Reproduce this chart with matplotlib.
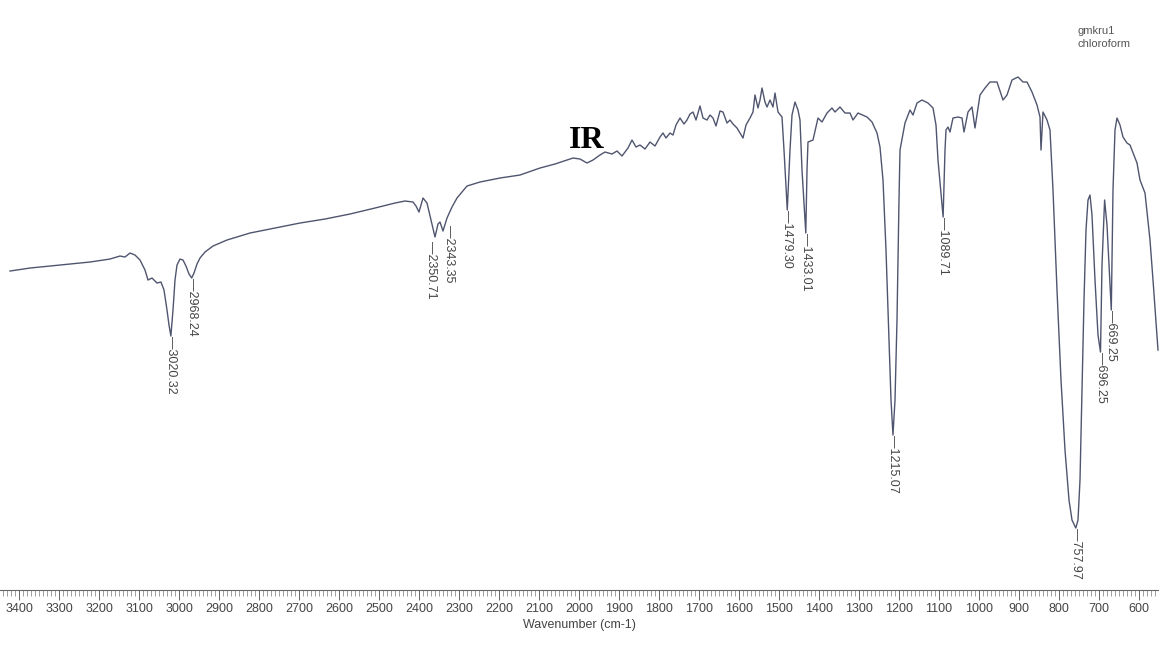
import matplotlib.pyplot as plt
from matplotlib.ticker import MultipleLocator

# IR trace (wavenumber in cm-1, transmittance in %T)
wavenumber = [
    3422.5, 3372.5, 3322.5, 3272.5, 3222.5, 3172.5, 3147.5, 3135, 3122.5, 3110,
    3097.5, 3085, 3077.5, 3067.5, 3055, 3045, 3037.5, 3030, 3025, 3020.32,
    3015, 3010, 3005, 2997.5, 2990, 2982.5, 2975, 2968.24, 2962.5, 2955,
    2947.5, 2935, 2915, 2880, 2822.5, 2760, 2697.5, 2635, 2572.5, 2510,
    2460, 2435, 2415, 2407.5, 2400, 2390, 2380, 2370, 2360, 2352.5,
    2347.5, 2340, 2330, 2317.5, 2305, 2280, 2247.5, 2197.5, 2147.5, 2097.5,
    2060, 2015, 1997.5, 1980, 1965, 1947.5, 1935, 1917.5, 1905, 1892.5,
    1877.5, 1867.5, 1857.5, 1847.5, 1835, 1822.5, 1810, 1797.5, 1790, 1782.5,
    1772.5, 1765, 1757.5, 1747.5, 1737.5, 1730, 1722.5, 1715, 1707.5, 1697.5,
    1690, 1680, 1672.5, 1665, 1657.5, 1647.5, 1640, 1630, 1622.5, 1615,
    1605, 1597.5, 1590, 1582.5, 1572.5, 1565, 1560, 1552.5, 1547.5, 1542.5,
    1535, 1530, 1522.5, 1515, 1510, 1502.5, 1492.5, 1487.5, 1479.30, 1472.5,
    1467.5, 1460, 1452.5, 1447.5, 1442.5, 1433.01, 1430, 1427.5, 1415, 1402.5,
    1392.5, 1380, 1367.5, 1360, 1347.5, 1335, 1322.5, 1315, 1302.5, 1280,
    1267.5, 1255, 1247.5, 1240, 1232.5, 1225, 1220, 1215.07, 1210, 1205,
    1200, 1197.5, 1185, 1172.5, 1165, 1155, 1142.5, 1127.5, 1115, 1107.5,
    1102.5, 1089.71, 1085, 1082.5, 1077.5, 1072.5, 1065, 1052.5, 1042.5, 1037.5,
    1027.5, 1017.5, 1010, 997.5, 985, 972.5, 955, 940, 930, 917.5,
    902.5, 890, 880, 867.5, 855, 847.5, 845, 842.5, 840, 830,
    822.5, 815, 805, 795, 785, 775, 767.5, 757.97, 752.5, 747.5,
    742.5, 737.5, 732.5, 727.5, 722.5, 717.5, 710, 702.5, 696.25, 692.5,
    686, 680, 675, 669.25, 665, 660, 655, 647.5, 640, 630,
    622.5, 605, 597.5, 585, 572.5, 565, 552.5,
]
transmittance = [
    53.8, 54.4, 54.8, 55.2, 55.6, 56.2, 56.8, 56.6, 57.4, 57.0,
    56.0, 54.0, 52.0, 52.4, 51.4, 51.6, 50.0, 46.0, 43.0, 40.8,
    46.0, 52.0, 55.0, 56.2, 56.0, 54.8, 53.2, 52.4, 53.4, 55.2,
    56.4, 57.6, 58.8, 60.0, 61.4, 62.4, 63.4, 64.2, 65.2, 66.4,
    67.4, 67.8, 67.6, 66.8, 65.6, 68.4, 67.4, 64.0, 60.6, 63.2,
    63.6, 61.8, 64.4, 66.6, 68.4, 70.8, 71.6, 72.4, 73.0, 74.4,
    75.2, 76.4, 76.2, 75.4, 76.0, 77.0, 77.6, 77.2, 77.8, 76.8,
    78.4, 80.0, 78.6, 79.0, 78.2, 79.6, 78.8, 80.6, 81.4, 80.4,
    81.4, 81.0, 83.0, 84.4, 83.2, 84.0, 85.2, 85.6, 84.0, 86.8,
    84.4, 84.0, 85.0, 84.4, 82.8, 85.8, 85.6, 83.4, 84.0, 83.2,
    82.4, 81.4, 80.4, 83.0, 84.4, 85.6, 89.0, 86.4, 88.0, 90.4,
    87.6, 86.6, 88.0, 86.6, 89.4, 85.6, 84.6, 78.0, 66.0, 78.0,
    85.0, 87.6, 86.0, 84.0, 74.0, 61.4, 74.0, 79.6, 80.0, 84.4,
    83.6, 85.4, 86.4, 85.6, 86.6, 85.4, 85.4, 84.0, 85.4, 84.6,
    83.6, 81.4, 78.6, 72.0, 58.0, 40.0, 28.0, 21.0, 28.0, 44.0,
    68.0, 78.0, 83.4, 86.0, 85.0, 87.4, 88.0, 87.4, 86.4, 83.0,
    76.0, 64.6, 78.0, 82.0, 82.6, 81.6, 84.4, 84.6, 84.4, 81.6,
    85.6, 86.6, 82.4, 89.0, 90.4, 91.6, 91.6, 88.0, 89.0, 92.0,
    92.6, 91.6, 91.6, 89.6, 87.0, 84.6, 78.0, 82.0, 85.6, 84.0,
    82.0, 70.0, 50.0, 32.0, 18.0, 8.0, 4.0, 2.4, 4.0, 12.0,
    30.0, 48.0, 62.0, 68.0, 69.0, 65.0, 52.0, 41.0, 37.6, 55.0,
    68.0, 63.0, 55.0, 46.0, 70.0, 82.0, 84.4, 83.0, 80.6, 79.4,
    79.0, 75.4, 72.0, 69.4, 60.0, 52.0, 38.0,
]

peak_text = ["3020.32", "2968.24", "2350.71", "2343.35", "1479.30", "1433.01",
             "1215.07", "1089.71", "757.97", "696.25", "669.25"]
peak_at = [3020.32, 2968.24, 2360, 2340, 1479.30, 1433.01,
           1215.07, 1089.71, 757.97, 696.25, 669.25]

fig = plt.figure(figsize=(11.59, 6.52), dpi=100)
ax = fig.add_axes([0, 0.095, 1, 0.905])
ax.plot(wavenumber, transmittance, color="#50556f", lw=1.0)

ax.set_xlim(3447.5, 550)
ax.set_ylim(-10, 108)
for s in ["top", "left", "right"]:
    ax.spines[s].set_visible(False)
ax.spines["bottom"].set_color("#666666")
ax.spines["bottom"].set_linewidth(0.8)
ax.set_yticks([])
ax.xaxis.set_major_locator(MultipleLocator(100))
ax.xaxis.set_minor_locator(MultipleLocator(10))
ax.tick_params(axis="x", which="major", length=7, width=0.7, color="#666666",
               labelsize=9, labelcolor="#444444", pad=2)
ax.tick_params(axis="x", which="minor", length=4, width=0.5, color="#777777")
for lab in ax.get_xticklabels():
    lab.set_family("Liberation Sans")
ax.set_xlabel("Wavenumber (cm-1)", fontsize=9, color="#444444",
              family="Liberation Sans", labelpad=3)

# peak labels hanging under each band; the CO2 pair is nudged apart
nudge = {"2350.71": (-3, -3), "2343.35": (4, 4)}
pts = sorted(zip(wavenumber, transmittance))
for txt, w in zip(peak_text, peak_at):
    t_min = min(t for x, t in pts if abs(x - w) < 4)
    dx, dy = nudge.get(txt, (0, -0.3))
    ax.annotate("\u2014" + txt, (w, t_min), xytext=(dx, dy),
                textcoords="offset points", rotation=270, ha="center", va="top",
                fontsize=9, color="#444444", family="Liberation Sans")

ax.text(1980, 78.4, "IR", fontsize=23, fontweight="bold", family="Liberation Serif",
        ha="center", va="baseline", color="black")

fig.text(0.93, 1 - 34 / 652, "gmkru1", fontsize=8, color="#555555",
         family="Liberation Sans")
fig.text(0.93, 1 - 47 / 652, "chloroform", fontsize=8, color="#555555",
         family="Liberation Sans")

fig.savefig("out.png", dpi=100, facecolor="white")
